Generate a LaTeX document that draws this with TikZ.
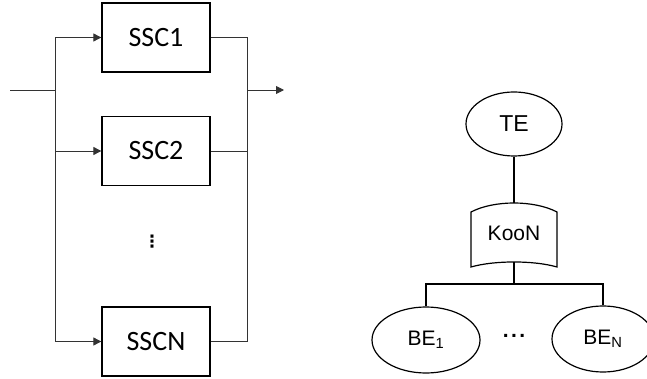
\documentclass[tikz,border=0pt]{standalone}
\usepackage{fontspec}
\setmainfont{Carlito}
\newfontfamily\arialfont{Liberation Sans}
\newfontfamily\symfont{DejaVu Sans}
\usetikzlibrary{arrows.meta,shapes.geometric,calc}
\begin{document}
\begin{tikzpicture}[x=1pt,y=-1pt,
  sscbox/.style={draw=black,line width=1.3pt,minimum width=108pt,minimum height=69pt,
    inner sep=0pt,font=\fontsize{28}{28}\selectfont},
  wire/.style={draw=black!80,line width=0.9pt},
  arr/.style={wire,-{Triangle[length=8pt,width=8pt]}},
  event/.style={ellipse,draw=black,line width=1.2pt,inner sep=0pt,
    font=\arialfont\fontsize{21}{21}\selectfont},
  link/.style={draw=black,line width=1.2pt}]
\useasboundingbox (0,0) rectangle (647,379);
\clip (0,0) rectangle (647,379);

% ---- parallel block diagram ----
\node[sscbox] (s1) at (156,37.5) {SSC1};
\node[sscbox] (s2) at (156,151) {SSC2};
\node[sscbox] (sN) at (156,341.5) {SSCN};
\node[inner sep=0pt,font=\symfont\bfseries\fontsize{17}{17}\selectfont] (vdots) at (152,242) {⋮};

\coordinate (in) at (10,90);
\coordinate (split) at (55,90);
\coordinate (join) at (247,90);
\coordinate (out) at (284,90);

\draw[wire] (in) -- (split);
\draw[wire] (split |- s1.west) -- (split |- sN.west);
\draw[arr] (split |- s1.west) -- (s1.west);
\draw[arr] (split |- s2.west) -- (s2.west);
\draw[arr] (split |- sN.west) -- (sN.west);
\draw[wire] (s1.east) -- (join |- s1.east);
\draw[wire] (s2.east) -- (join |- s2.east);
\draw[wire] (sN.east) -- (join |- sN.east);
\draw[wire] (join |- s1.east) -- (join |- sN.east);
\draw[arr] (join) -- (out);

% ---- fault tree ----
\node[event,minimum width=96pt,minimum height=64pt,font=\arialfont\fontsize{23}{23}\selectfont] (te) at (514,124) {TE};
\node[inner sep=0pt,font=\arialfont\fontsize{21}{21}\selectfont] (koon) at (514,233) {KooN};
\draw[link] ($(koon)+(-43,-21)$) .. controls ($(koon)+(-20,-33)$) and ($(koon)+(20,-33)$) ..
  ($(koon)+(43,-21)$) -- ($(koon)+(43,34)$)
  .. controls ($(koon)+(20,27.3)$) and ($(koon)+(-20,27.3)$) .. ($(koon)+(-43,34)$) -- cycle;
\coordinate (ktop) at ($(koon)+(0,-30)$);
\coordinate (kbot) at ($(koon)+(0,29)$);
\coordinate (branch) at (514,284);

\node[event,minimum width=108pt,minimum height=66pt] (be1) at (426,340) {BE\textsubscript{1}};
\node[event,minimum width=102pt,minimum height=66pt] (ben) at (603,339) {BE\textsubscript{N}};
\node[inner sep=0pt,font=\arialfont\bfseries\fontsize{21}{21}\selectfont] (hdots) at (514,336) {.\kern2.5pt.\kern2.5pt.};

\draw[link] (te.south) -- (ktop);
\draw[link] (kbot) -- (branch);
\draw[link] (be1.north) |- (branch) -| (ben.north);
\end{tikzpicture}
\end{document}
